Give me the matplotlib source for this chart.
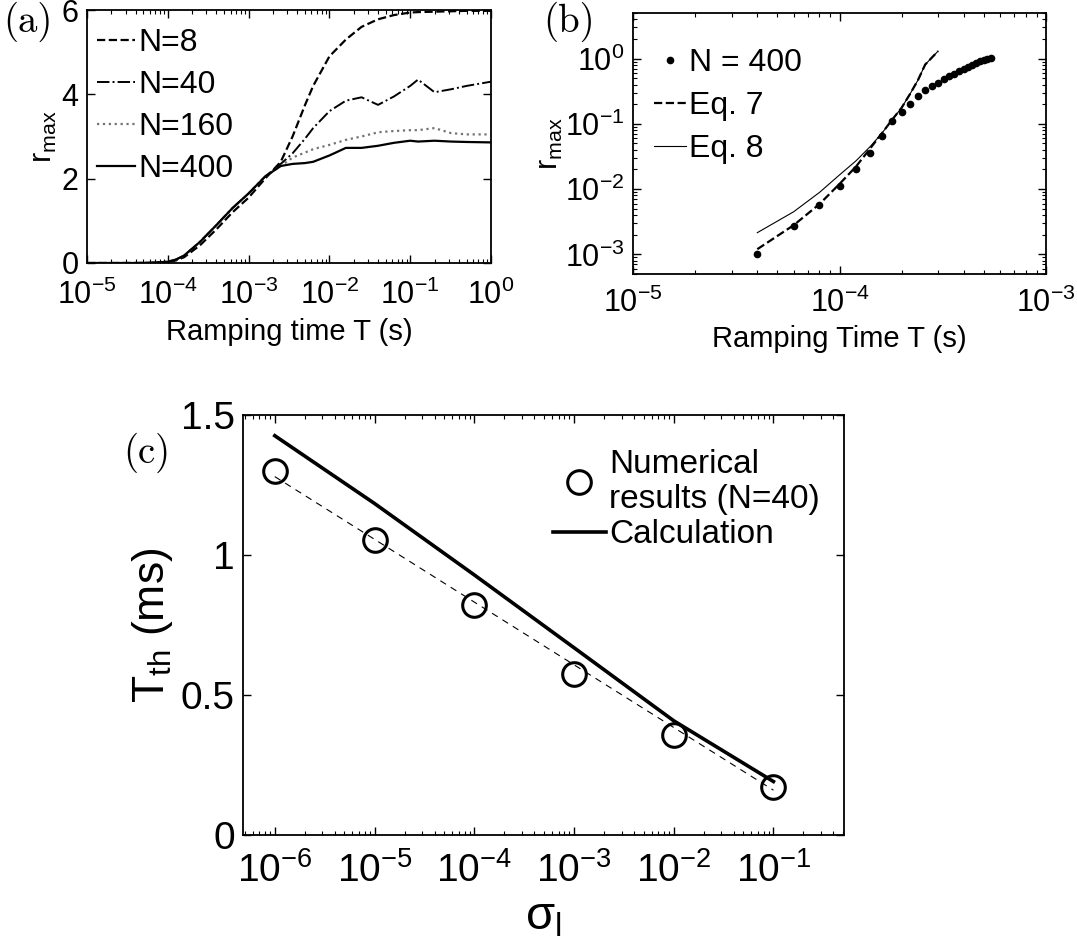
import matplotlib
matplotlib.use("Agg")
import matplotlib.pyplot as plt
from matplotlib.ticker import LogLocator, NullFormatter

plt.rcParams['font.family'] = ['Liberation Sans', 'DejaVu Sans']
plt.rcParams['mathtext.fontset'] = 'custom'
plt.rcParams['mathtext.rm'] = 'Liberation Sans'
plt.rcParams['mathtext.it'] = 'Liberation Sans:italic'
plt.rcParams['mathtext.default'] = 'regular'

# ---- panel (a): r_max vs ramping time for several N
T_a = [1e-5, 4e-5, 6.3e-5, 1e-4, 1.26e-4, 1.6e-4, 2.5e-4, 4e-4, 6.3e-4, 1e-3,
       1.6e-3, 2.5e-3, 3.5e-3, 5e-3, 6.3e-3, 1e-2, 1.6e-2, 2.5e-2, 4e-2, 6.3e-2,
       0.1, 0.125, 0.2, 0.32, 0.5, 1.0]
r_N8 = [0, 0, 0.005, 0.025, 0.06, 0.14, 0.42, 0.8, 1.2, 1.55,
        2.0, 2.4, 3.0, 3.75, 4.2, 4.9, 5.3, 5.6, 5.78, 5.88,
        5.94, 5.95, 5.96, 5.97, 5.98, 5.98]
r_N40 = [0, 0, 0.005, 0.03, 0.08, 0.18, 0.5, 0.9, 1.3, 1.65,
         2.05, 2.35, 2.6, 2.95, 3.2, 3.6, 3.85, 3.93, 3.75, 3.95,
         4.2, 4.35, 4.05, 4.12, 4.2, 4.3]
r_N160 = [0, 0, 0.005, 0.03, 0.08, 0.18, 0.5, 0.9, 1.3, 1.65,
          2.05, 2.3, 2.5, 2.62, 2.7, 2.8, 2.92, 3.0, 3.1, 3.13,
          3.15, 3.15, 3.2, 3.08, 3.05, 3.05]
r_N400 = [0, 0, 0.005, 0.03, 0.08, 0.18, 0.5, 0.9, 1.3, 1.65,
          2.05, 2.3, 2.35, 2.37, 2.4, 2.55, 2.73, 2.73, 2.78, 2.85,
          2.9, 2.88, 2.9, 2.88, 2.87, 2.86]

# ---- panel (b): small-T regime, N=400 and two approximations
T_b = [4e-5, 6e-5, 8e-5, 1e-4, 1.2e-4, 1.4e-4, 1.6e-4, 1.8e-4, 2e-4, 2.2e-4,
       2.4e-4, 2.6e-4, 2.8e-4, 3e-4, 3.2e-4, 3.4e-4, 3.6e-4, 3.8e-4, 4e-4, 4.2e-4,
       4.4e-4, 4.6e-4, 4.8e-4, 5e-4, 5.2e-4, 5.4e-4]
r_b = [1.02e-3, 2.7e-3, 5.7e-3, 1.1e-2, 2.0e-2, 3.6e-2, 6.5e-2, 0.109, 0.153, 0.205,
       0.27, 0.326, 0.377, 0.427, 0.482, 0.537, 0.585, 0.637, 0.694, 0.738,
       0.793, 0.853, 0.908, 0.953, 1.0, 1.02]
T_eq = [4e-5, 6e-5, 8e-5, 1e-4, 1.2e-4, 1.4e-4, 1.6e-4, 1.8e-4, 2e-4, 2.2e-4,
        2.4e-4, 2.6e-4, 3e-4]
r_eq7 = [1.2e-3, 2.8e-3, 5.9e-3, 1.2e-2, 2.2e-2, 4.1e-2, 7.1e-2, 0.116, 0.177, 0.29,
         0.47, 0.81, 1.3]
r_eq8 = [2.15e-3, 4.5e-3, 8.9e-3, 1.65e-2, 2.7e-2, 4.4e-2, 7.1e-2, 0.116, 0.177, 0.29,
         0.47, 0.81, 1.3]

# ---- panel (c): threshold time vs sigma_l
sigma = [1e-6, 1e-5, 1e-4, 1e-3, 1e-2, 1e-1]
Tth_num = [1.30, 1.053, 0.82, 0.574, 0.357, 0.171]
Tth_calc = [1.426, 1.184, 0.929, 0.669, 0.408, 0.191]
fit_sigma = [1e-6, 1e-1]
fit_T = [1.28, 0.16]


def matlab_axes(ax, size, xpad=10):
    ax.tick_params(which='both', direction='in', top=True, right=True,
                   labelsize=size)
    ax.tick_params(which='major', length=6, width=1)
    ax.tick_params(which='minor', length=3, width=0.8)
    ax.tick_params(axis='x', pad=xpad)
    ax.tick_params(axis='y', pad=6)
    for s in ax.spines.values():
        s.set_linewidth(1.3)


fig = plt.figure(figsize=(10.77, 9.47), dpi=100)
W, H = 1077, 947

def px_axes(l, t, r, b):
    return fig.add_axes([l / W, 1 - b / H, (r - l) / W, (b - t) / H])

# (a)
ax1 = px_axes(87, 10, 491, 263)
ax1.semilogx(T_a, r_N8, 'k--', lw=1.6, label='N=8')
ax1.semilogx(T_a, r_N40, 'k-.', lw=1.4, label='N=40')
ax1.semilogx(T_a, r_N160, ':', color='0.45', lw=1.6, label='N=160')
ax1.semilogx(T_a, r_N400, 'k-', lw=1.6, label='N=400')
ax1.set_xlim(1e-5, 1)
ax1.set_ylim(0, 6)
ax1.set_yticks([0, 2, 4, 6])
ax1.set_xticks([1e-5, 1e-4, 1e-3, 1e-2, 1e-1, 1])
ax1.xaxis.set_minor_locator(LogLocator(subs=range(2, 10), numticks=20))
ax1.xaxis.set_minor_formatter(NullFormatter())
matlab_axes(ax1, 22, xpad=12)
ax1.set_xlabel('Ramping time T (s)', fontsize=21, labelpad=5)
ax1.set_ylabel('r$_{max}$', fontsize=22, labelpad=2)
ax1.legend(loc='upper left', bbox_to_anchor=(0.025, 0.93), frameon=False,
           fontsize=23, handlelength=1.2, handletextpad=0.1,
           labelspacing=0.38, borderaxespad=0.0, borderpad=0.0)

# (b)
ax2 = px_axes(633, 13, 1046, 274)
ax2.loglog(T_b, r_b, 'ko', ms=4.5, ls='none', label='N = 400')
ax2.loglog(T_eq, r_eq7, 'k--', lw=1.6, label='Eq. 7')
ax2.loglog(T_eq, r_eq8, 'k-', lw=0.8, label='Eq. 8')
ax2.set_xlim(1e-5, 1e-3)
ax2.set_ylim(5e-4, 5)
ax2.set_xticks([1e-5, 1e-4, 1e-3])
ax2.set_yticks([1e-3, 1e-2, 1e-1, 1])
ax2.xaxis.set_minor_locator(LogLocator(subs=range(2, 10), numticks=20))
ax2.yaxis.set_minor_locator(LogLocator(subs=range(2, 10), numticks=20))
ax2.xaxis.set_minor_formatter(NullFormatter())
ax2.yaxis.set_minor_formatter(NullFormatter())
matlab_axes(ax2, 22)
ax2.set_xlabel('Ramping Time T (s)', fontsize=21, labelpad=4)
ax2.set_ylabel('r$_{max}$', fontsize=22, labelpad=0)
ax2.legend(loc='upper left', bbox_to_anchor=(0.05, 0.865), frameon=False,
           fontsize=23, handlelength=1.0, handletextpad=0.1,
           labelspacing=0.4, borderaxespad=0.0, borderpad=0.0)

# (c)
ax3 = px_axes(243, 415, 844, 835)
ax3.semilogx(fit_sigma, fit_T, 'k--', lw=0.8, dashes=(6, 5))
ax3.semilogx(sigma, Tth_num, 'ko', mfc='none', ms=17, mew=2.2, ls='none',
             label='Numerical\nresults (N=40)')
ax3.semilogx(sigma, Tth_calc, 'k-', lw=2.6, label='Calculation')
ax3.set_xlim(4.8e-7, 0.51)
ax3.set_ylim(0, 1.5)
ax3.set_yticks([0, 0.5, 1, 1.5])
ax3.set_yticklabels(['0', '0.5', '1', '1.5'])
ax3.set_xticks(sigma)
ax3.xaxis.set_minor_locator(LogLocator(subs=range(2, 10), numticks=20))
ax3.xaxis.set_minor_formatter(NullFormatter())
matlab_axes(ax3, 28, xpad=12)
ax3.set_xlabel(r'$\sigma_l$', fontsize=34, labelpad=4)
ax3.set_ylabel('T$_{th}$ (ms)', fontsize=32, labelpad=4)
ax3.legend(loc='upper left', bbox_to_anchor=(0.515, 0.92), frameon=False,
           fontsize=24, handlelength=1.6, handletextpad=0.1,
           labelspacing=0.12, borderaxespad=0.0, borderpad=0.0)

# panel letters
fig.text(3 / W, 1 - 2 / H, '(a)', fontsize=28, family='cmr10', va='top')
fig.text(543 / W, 1 - 2 / H, '(b)', fontsize=28, family='cmr10', va='top')
fig.text(123 / W, 1 - 433 / H, '(c)', fontsize=28, family='cmr10', va='top')

fig.savefig('out.png', dpi=100)
